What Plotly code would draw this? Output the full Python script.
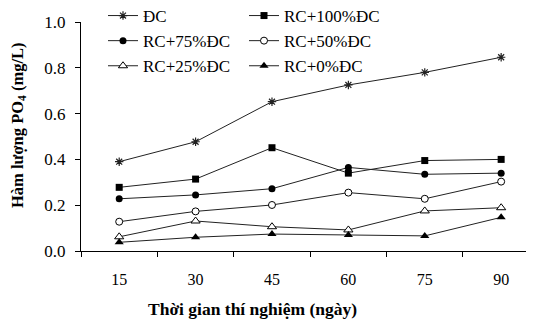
import plotly.graph_objects as go

days = ["15", "30", "45", "60", "75", "90"]
dc = [0.39, 0.477, 0.652, 0.725, 0.78, 0.846]
rc100 = [0.278, 0.314, 0.451, 0.34, 0.395, 0.40]
rc75 = [0.228, 0.245, 0.272, 0.365, 0.335, 0.34]
rc50 = [0.128, 0.173, 0.201, 0.255, 0.228, 0.303]
rc25 = [0.062, 0.131, 0.106, 0.092, 0.175, 0.189]
rc0 = [0.038, 0.06, 0.074, 0.07, 0.066, 0.147]

FONT = "Liberation Serif, Times New Roman, serif"
LC = "#222222"

series = [
    ("ĐC", dc, dict(symbol="asterisk-open", size=7, color=LC, line=dict(color=LC, width=1.2)), "legend"),
    ("RC+100%ĐC", rc100, dict(symbol="square", size=7, color="black"), "legend2"),
    ("RC+75%ĐC", rc75, dict(symbol="circle", size=7, color="black"), "legend"),
    ("RC+50%ĐC", rc50, dict(symbol="circle", size=7, color="white", line=dict(color="black", width=1)), "legend2"),
    ("RC+25%ĐC", rc25, dict(symbol="triangle-up", size=8, color="white", line=dict(color="black", width=1)), "legend"),
    ("RC+0%ĐC", rc0, dict(symbol="triangle-up", size=8, color="black"), "legend2"),
]

fig = go.Figure()
for name, vals, mk, lg in series:
    fig.add_trace(go.Scatter(x=days, y=vals, name=name, mode="lines+markers",
                             line=dict(color=LC, width=1), marker=mk, legend=lg))

# page has an 8px body margin, so the figure is drawn 8px smaller and shifted
L, T, B = 73, 14, 72
W, H = 526, 315
PW = W - L
PH = H - T - B
legend_common = dict(font=dict(family=FONT, size=17, color="black"), bgcolor="rgba(0,0,0,0)",
                     orientation="v", xanchor="left", yanchor="top", itemwidth=30,
                     tracegroupgap=0)
fig.update_layout(
    width=W, height=H,
    margin=dict(l=L, r=0, t=T, b=B, autoexpand=False),
    plot_bgcolor="white", paper_bgcolor="white",
    font=dict(family=FONT, size=16, color="black"),
    legend=dict(x=(95 - L) / PW, y=1 + (T + 10) / PH, **legend_common),
    legend2=dict(x=(236 - L) / PW, y=1 + (T + 10) / PH, **legend_common),
    xaxis=dict(type="category", range=[-0.5, 5.43], tickson="boundaries",
               ticks="outside", ticklen=5, tickcolor="black", showline=True,
               linecolor="black", linewidth=1, showgrid=False, zeroline=False,
               tickfont=dict(family=FONT, size=16), ticklabelstandoff=14, automargin=False),
    yaxis=dict(range=[0, 1.0],
               tickvals=[0, 0.2, 0.4, 0.6, 0.8, 1.0], tickformat=".1f",
               ticks="outside", ticklen=5, tickcolor="black", showline=True,
               linecolor="black", linewidth=1, showgrid=False, zeroline=False,
               tickfont=dict(family=FONT, size=17), ticklabelstandoff=6, automargin=False),
    annotations=[
        dict(text="<b>Hàm lượng PO<sub>4</sub> (mg/L)</b>", textangle=-90, xref="paper", yref="paper",
             x=(10 - L) / PW, y=(T + PH - 117) / PH, xanchor="center", yanchor="middle", showarrow=False,
             font=dict(family=FONT, size=16.5, color="black")),
        dict(text="<b>Thời gian thí nghiệm (ngày)</b>", xref="paper", yref="paper",
             x=(244 - L) / PW, y=(T + PH - 301) / PH, xanchor="center", yanchor="middle", showarrow=False,
             font=dict(family=FONT, size=17.5, color="black")),
    ],
)

fig.write_html("out.html")
